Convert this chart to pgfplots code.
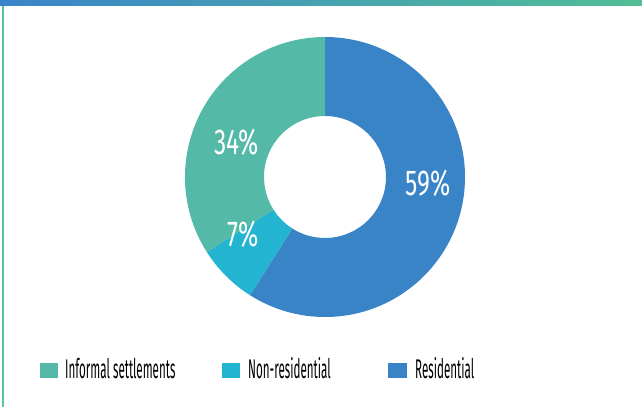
\documentclass[border=0pt]{standalone}
\usepackage{pgfplots}
\pgfplotsset{compat=1.18}
\usepackage{pgfplotstable}
\usepackage{fontspec}
\setmainfont{Fira Sans}
\newfontfamily\legfont{Fira Sans}[FakeStretch=0.43]
\newfontfamily\pctfont{Fira Sans}[FakeStretch=0.68]

\definecolor{informal}{HTML}{55B9A8}
\definecolor{nonres}{HTML}{22B4D0}
\definecolor{resid}{HTML}{3884C6}
\definecolor{barleft}{HTML}{3A84C9}
\definecolor{barright}{HTML}{52BF96}
\definecolor{frameline}{HTML}{5CC49A}

% shares in percent, clockwise from the top; label position in px
\pgfplotstableread{
name share lx ly col
Residential 59 428 224 resid
Non-residential 7 243 173 nonres
Informal 34 237 265 informal
}\shares

\begin{document}
\begin{tikzpicture}
\useasboundingbox (0,0) rectangle (642pt,407pt);
\begin{axis}[
    x=1pt, y=1pt,
    xmin=0, xmax=642, ymin=0, ymax=407,
    enlargelimits=false,
    hide axis, clip=false,
    scale only axis,
]
% frame
\fill[left color=barleft, right color=barright] (0,401) rectangle (642,407);
\draw[frameline, line width=1.5pt] (3,0) -- (3,401);

% donut
\def\cx{325}\def\cy{230}\def\ro{140}\def\ri{61}
\pgfplotstablegetrowsof{\shares}
\pgfmathtruncatemacro\N{\pgfplotsretval-1}
\def\acc{90}
\pgfplotsforeachungrouped \i in {0,...,\N}{
  \pgfplotstablegetelem{\i}{share}\of\shares \let\s\pgfplotsretval
  \pgfplotstablegetelem{\i}{col}\of\shares \let\wcol\pgfplotsretval
  \pgfmathsetmacro\aend{\acc-3.6*\s}
  \edef\temp{%
    \noexpand\fill[\wcol] ({\cx+\ro*cos(\acc)},{\cy+\ro*sin(\acc)})
      arc[start angle=\acc, end angle=\aend, radius=\ro pt]
      -- ({\cx+\ri*cos(\aend)},{\cy+\ri*sin(\aend)})
      arc[start angle=\aend, end angle=\acc, radius=\ri pt] -- cycle;
  }
  \temp
  \let\acc\aend
}
% percentage labels, after all wedges
\pgfplotsforeachungrouped \i in {0,...,\N}{
  \pgfplotstablegetelem{\i}{share}\of\shares \let\s\pgfplotsretval
  \pgfplotstablegetelem{\i}{lx}\of\shares \let\lx\pgfplotsretval
  \pgfplotstablegetelem{\i}{ly}\of\shares \let\ly\pgfplotsretval
  \edef\temp{%
    \noexpand\node[white, inner sep=0pt, font=\noexpand\pctfont\noexpand\fontsize{36}{36}\noexpand\selectfont]
      at (\lx,\ly) {\s\noexpand\%};
  }
  \temp
}

% legend
\fill[informal] (40,29) rectangle (58,44);
\node[anchor=base west, inner sep=0pt, font=\legfont\fontsize{27}{27}\selectfont] at (65,29) {Informal settlements};
\fill[nonres] (222,29) rectangle (240,44);
\node[anchor=base west, inner sep=0pt, font=\legfont\fontsize{27}{27}\selectfont] at (248,29) {Non-residential};
\fill[resid] (388,29) rectangle (407,44);
\node[anchor=base west, inner sep=0pt, font=\legfont\fontsize{27}{27}\selectfont] at (415,29) {Residential};
\end{axis}
\end{tikzpicture}
\end{document}
